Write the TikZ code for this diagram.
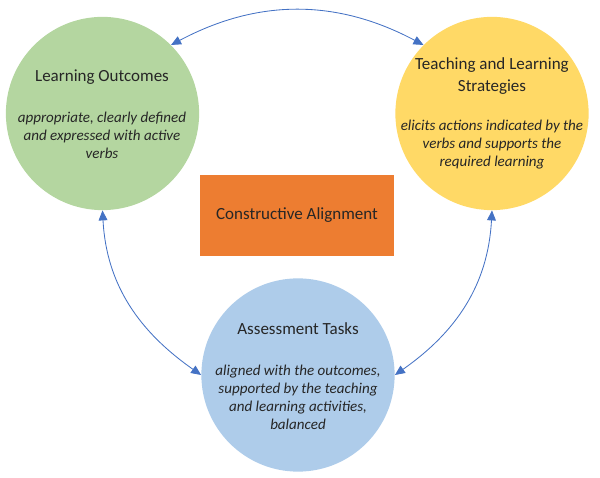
\documentclass[tikz,border=0pt]{standalone}
\usepackage{fontspec}
\setmainfont{Carlito}
\usetikzlibrary{arrows.meta}

\definecolor{outgreen}{HTML}{B4D6A0}
\definecolor{stratyellow}{HTML}{FFD966}
\definecolor{taskblue}{HTML}{AECCEA}
\definecolor{alignorange}{HTML}{ED7D31}
\definecolor{arrowblue}{HTML}{4472C4}

\tikzstyle{circ} = [circle, minimum size=4.83cm, inner sep=0pt]
\tikzstyle{line} = [draw, color=arrowblue, line width=0.6pt, {Triangle[length=0.25cm,width=0.22cm]}-{Triangle[length=0.25cm,width=0.22cm]}]
\tikzstyle{title} = [align=center, text=black!85, font=\fontsize{12.1}{15.6}\selectfont]
\tikzstyle{desc} = [align=center, text=black!85, font=\fontsize{10.7}{12.8}\selectfont\itshape]

\begin{document}
\begin{tikzpicture}[x=0.025cm,y=0.025cm]
		\useasboundingbox (0,0) rectangle (600,-478);
		
		%circles
		\node[circ,fill=outgreen](outcomes) at (102.5,-113.5) {};
		\node[circ,fill=stratyellow](strategies) at (492,-113.5) {};
		\node[circ,fill=taskblue](tasks) at (298,-375) {};
		%centre box
		\node[rectangle,fill=alignorange,minimum width=4.85cm,minimum height=2.03cm,title](align) at (297,-215.5) {Constructive Alignment};
		%labels
		\node[title](outtitle) at (102,-77) {Learning Outcomes};
		\node[desc](outtext) at (102,-135) {appropriate, clearly defined\\and expressed with active\\verbs};
		\node[title](strattitle) at (492,-76) {Teaching and Learning\\Strategies};
		\node[desc](strattext) at (492,-145) {elicits actions indicated by the\\verbs and supports the\\required learning};
		\node[title](tasktitle) at (298,-329) {Assessment Tasks};
		\node[desc](tasktext) at (298,-397) {aligned with the outcomes,\\supported by the teaching\\and learning activities,\\balanced};
		%arrows
		\draw[line] (outcomes.45) to[bend left=28] (strategies.135);
		\draw[line] (outcomes.south) to[out=-87,in=145] (tasks.west);
		\draw[line] (strategies.south) to[out=-93,in=35] (tasks.east);
\end{tikzpicture}
\end{document}
